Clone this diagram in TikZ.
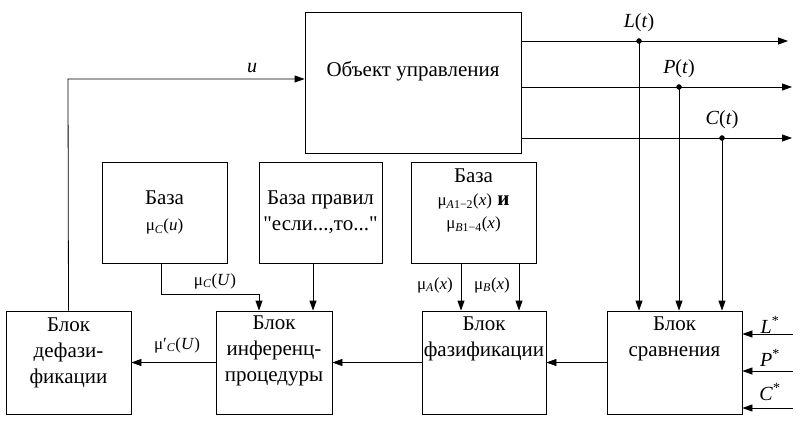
\documentclass[tikz,border=0pt]{standalone}
\usepackage{fontspec}
\setmainfont{Liberation Serif}
\usetikzlibrary{arrows.meta,calc}
\tikzset{block/.style={draw,line width=0.8pt,inner sep=0pt}}
\tikzset{btext/.style={align=center,inner sep=0pt}}
\tikzset{sig/.style={line width=0.8pt,-{Triangle[length=10pt,width=7pt]}}}
\tikzset{sym/.style={inner sep=0pt,font=\fontsize{20}{22}\selectfont}}
\tikzset{mu/.style={inner sep=0pt,font=\fontsize{17}{20}\selectfont}}

\begin{document}
\begin{tikzpicture}[x=1pt,y=-1pt,font=\fontsize{21}{26}\selectfont]
	\useasboundingbox (0,0) rectangle (803,421);
	% blocks
	\node [block,minimum width=216pt,minimum height=141pt] (obj) at (413,82.5) {};
	\node [block,minimum width=125pt,minimum height=101pt] (cbase) at (164.5,212.5) {};
	\node [block,minimum width=123pt,minimum height=101pt] (rules) at (320.5,212.5) {};
	\node [block,minimum width=125pt,minimum height=101pt] (abbase) at (473.5,212.5) {};
	\node [block,minimum width=125pt,minimum height=103pt] (defuz) at (68.5,362.5) {};
	\node [block,minimum width=116pt,minimum height=103pt] (infer) at (274,362.5) {};
	\node [block,minimum width=124pt,minimum height=103pt] (fuzz) at (484,362.5) {};
	\node [block,minimum width=135pt,minimum height=103pt] (comp) at (674.5,362.5) {};

	% texts of the blocks
	\node [btext] (objtext) at (413,71) {Объект управления};
	\node [btext] (cbasetext) at (cbase.center) {База\\{\fontsize{17}{20}\selectfont μ\textsubscript{\textit{C}}(\textit{u})}};
	\node [btext] (rulestext) at (rules.center) {База правил\\\textquotedbl если...,то...\textquotedbl};
	\node [btext,anchor=north] (abtext) at ($(abbase.north)+(0,7)$) {База\\[-3pt]{\fontsize{17}{20}\selectfont μ\textsubscript{\textit{A}1−2}(\textit{x})}\ \textbf{и}\\[-3pt]{\fontsize{17}{20}\selectfont μ\textsubscript{\textit{B}1−4}(\textit{x})}};
	\node [btext,anchor=north] (defuztext) at ($(defuz.north)+(0,7)$) {Блок\\дефази-\\фикации};
	\node [btext,anchor=north] (infertext) at ($(infer.north)+(0,5)$) {Блок\\инференц-\\процедуры};
	\node [btext,anchor=north] (fuzztext) at ($(fuzz.north)+(0,6)$) {Блок\\фазификации};
	\node [btext,anchor=north] (comptext) at ($(comp.north)+(0,6)$) {Блок\\сравнения};

	% outputs of the object
	\coordinate [label={[sym,label distance=9pt]above:\textit{L}(\textit{t})}] (Ldot) at (639,41);
	\coordinate [label={[sym,label distance=9pt]above:\textit{P}(\textit{t})}] (Pdot) at (679,87);
	\coordinate [label={[sym,label distance=9pt]above:\textit{C}(\textit{t})}] (Cdot) at (722,138);
	\coordinate (Lend) at (788,41);
	\coordinate (Pend) at (792,87);
	\coordinate (Cend) at (792,138);
	\draw [sig] (obj.east |- Ldot) -- (Lend);
	\draw [sig] (obj.east |- Pdot) -- (Pend);
	\draw [sig] (obj.east |- Cdot) -- (Cend);
	\filldraw [black] (Ldot) circle [radius=2.5pt];
	\filldraw [black] (Pdot) circle [radius=2.5pt];
	\filldraw [black] (Cdot) circle [radius=2.5pt];
	\draw [sig] (Ldot) -- (Ldot |- comp.north);
	\draw [sig] (Pdot) -- (Pdot |- comp.north);
	\draw [sig] (Cdot) -- (Cdot |- comp.north);

	% set points
	\coordinate (Lin) at (793,334);
	\coordinate (Pin) at (793,371);
	\coordinate (Cin) at (793,408);
	\draw [sig] (Lin) -- (Lin -| comp.east);
	\draw [sig] (Pin) -- (Pin -| comp.east);
	\draw [sig] (Cin) -- (Cin -| comp.east);
	\node [sym] (Lstar) at (770,325) {\textit{L}\textsuperscript{*}};
	\node [sym] (Pstar) at (770,358) {\textit{P}\textsuperscript{*}};
	\node [sym] (Cstar) at (770,392) {\textit{C}\textsuperscript{*}};

	% chain of blocks
	\draw [sig] (comp.west) -- (fuzz.east);
	\draw [sig] (fuzz.west) -- (infer.east);
	\draw [sig] (infer.west) -- (defuz.east);
	\node [mu] (mudefuz) at (177,345) {μ′\textsubscript{\textit{C}}(\textit{U})};

	% bases into blocks
	\draw [sig] ($(cbase.south)+(-3.5,0)$) -- ++(0,31) -| ($(infer.north)+(-15,0)$);
	\node [mu] (mucbase) at (215,281) {μ\textsubscript{\textit{C}}(\textit{U})};
	\draw [sig] ($(rules.south)+(-7.5,0)$) coordinate (r1) -- (r1 |- infer.north);
	\draw [sig] ($(abbase.south)+(-12.5,0)$) coordinate (a1) -- (a1 |- fuzz.north);
	\draw [sig] ($(abbase.south)+(45.5,0)$) coordinate (b1) -- (b1 |- fuzz.north);
	\node [mu] (muA) at (435,285) {μ\textsubscript{\textit{A}}(\textit{x})};
	\node [mu] (muB) at (492,285) {μ\textsubscript{\textit{B}}(\textit{x})};

	% control back to the object
	\coordinate (ucorner) at (68,79);
	\draw [sig] (defuz.north) -- (ucorner) -- (obj.west |- ucorner);
	\node [sym] (ulbl) at (252,68) {\textit{u}};
\end{tikzpicture}
\end{document}
